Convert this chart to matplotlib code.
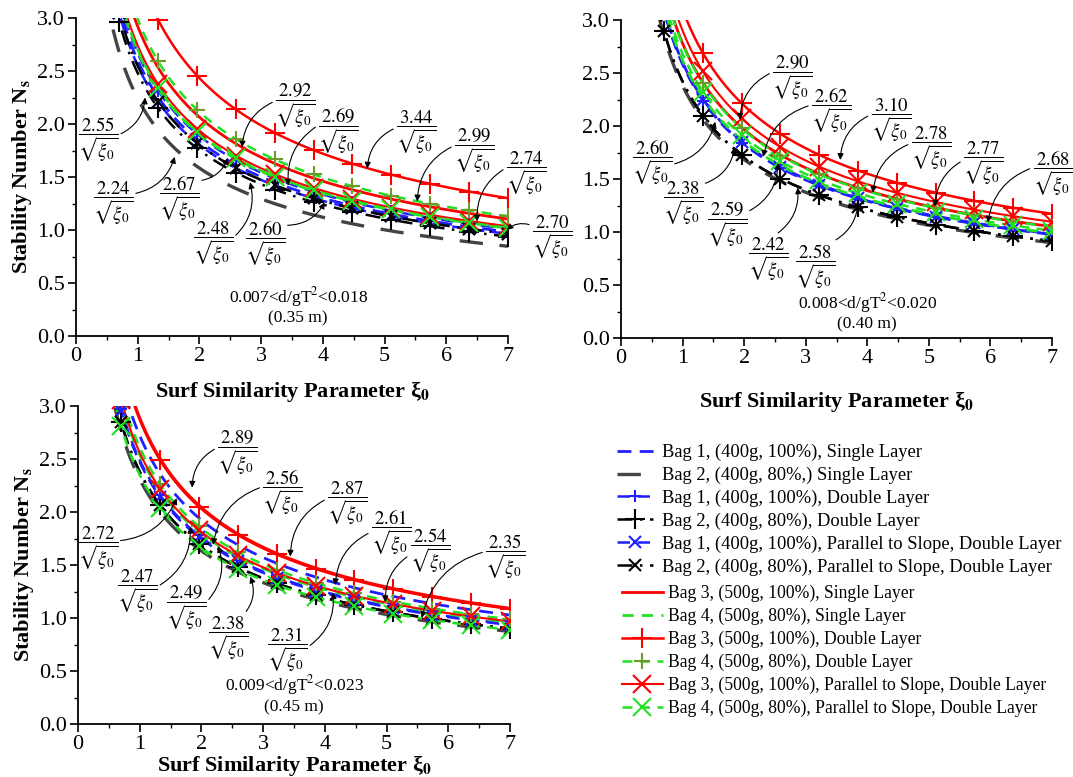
import numpy as np
import matplotlib
matplotlib.use("Agg")
import matplotlib.pyplot as plt
from matplotlib.lines import Line2D
from matplotlib.ticker import MultipleLocator, FormatStrFormatter

plt.rcParams['font.family'] = ['Liberation Serif', 'DejaVu Serif']
plt.rcParams['mathtext.fontset'] = 'stix'

# Surf similarity values at which the test points are plotted
xi_points = [0.70, 1.33, 1.96, 2.59, 3.22, 3.85, 4.48, 5.11, 5.74, 6.37, 7.00]

series_names = [
    'Bag 1, (400g, 100%), Single Layer',
    'Bag 2, (400g, 80%,) Single Layer',
    'Bag 1, (400g, 100%), Double Layer',
    'Bag 2, (400g, 80%), Double Layer',
    'Bag 1, (400g, 100%), Parallel to Slope, Double Layer',
    'Bag 2, (400g, 80%), Parallel to Slope, Double Layer',
    'Bag 3, (500g, 100%), Single Layer',
    'Bag 4, (500g, 80%), Single Layer',
    'Bag 3, (500g, 100%), Double Layer',
    'Bag 4, (500g, 80%), Double Layer',
    'Bag 3, (500g, 100%), Parallel to Slope, Double Layer',
    'Bag 4, (500g, 80%), Parallel to Slope, Double Layer',
]

# Fitted coefficients a in N_s = a / sqrt(xi_0), one per series (legend order)
coef_035 = [2.60, 2.24, 2.67, 2.48, 2.55, 2.55, 2.92, 2.69, 3.44, 2.99, 2.74, 2.70]
coef_040 = [2.60, 2.38, 2.58, 2.42, 2.59, 2.42, 2.78, 2.62, 3.10, 2.77, 2.90, 2.68]
coef_045 = [2.72, 2.31, 2.49, 2.38, 2.47, 2.38, 2.89, 2.54, 2.87, 2.61, 2.56, 2.35]

# Labelled fits: coefficient, label position, arrow tip, arrow start on label box
labels_035 = [
    (2.55, (0.36, 1.85), (1.12, 2.25), (1, 0.6)),
    (2.24, (0.60, 1.25), (1.60, 1.69), (1, 0.7)),
    (2.67, (1.67, 1.30), (2.46, 1.68), (1, 0.85)),
    (2.92, (3.55, 2.17), (2.69, 1.78), (0, 0.6)),
    (2.69, (4.25, 1.94), (3.44, 1.42), (0, 0.6)),
    (2.48, (2.22, 0.88), (2.82, 1.45), (1, 0.6)),
    (2.60, (3.06, 0.88), (4.03, 1.26), (1, 0.85)),
    (3.44, (5.51, 1.92), (4.72, 1.58), (0, 0.6)),
    (2.99, (6.45, 1.75), (5.53, 1.27), (0, 0.6)),
    (2.74, (7.29, 1.54), (6.50, 1.08), (0, 0.6)),
    (2.70, (7.71, 0.93), (6.98, 1.00), (0, 0.75)),
]
labels_040 = [
    (2.90, (2.78, 2.46), (1.93, 2.06), (0, 0.6)),
    (2.62, (3.41, 2.15), (2.31, 1.71), (0, 0.6)),
    (3.10, (4.38, 2.06), (3.56, 1.68), (0, 0.6)),
    (2.78, (5.03, 1.79), (4.09, 1.37), (0, 0.6)),
    (2.77, (5.88, 1.65), (5.10, 1.24), (0.1, 0.6)),
    (2.68, (7.01, 1.56), (5.96, 1.09), (0, 0.6)),
    (2.60, (0.50, 1.66), (1.53, 2.04), (1, 0.45)),
    (2.38, (1.00, 1.27), (1.85, 1.80), (1, 0.9)),
    (2.59, (1.72, 1.07), (2.55, 1.65), (1, 0.75)),
    (2.42, (2.39, 0.74), (2.87, 1.42), (0.65, 1)),
    (2.58, (3.15, 0.67), (3.85, 1.30), (0.9, 1)),
]
labels_045 = [
    (2.89, (2.58, 2.56), (1.85, 2.23), (0, 0.6)),
    (2.56, (3.31, 2.19), (2.19, 1.69), (0, 0.6)),
    (2.87, (4.36, 2.08), (3.44, 1.58), (0, 0.6)),
    (2.61, (5.07, 1.81), (4.17, 1.31), (0, 0.5)),
    (2.54, (5.70, 1.64), (4.98, 1.15), (0.1, 0.45)),
    (2.35, (6.92, 1.58), (5.57, 1.00), (0, 0.6)),
    (2.72, (0.32, 1.66), (1.60, 2.13), (1, 0.65)),
    (2.47, (0.96, 1.25), (1.82, 1.86), (1, 0.6)),
    (2.49, (1.75, 1.10), (2.27, 1.68), (1, 0.6)),
    (2.38, (2.43, 0.81), (2.79, 1.39), (0.9, 1)),
    (2.31, (3.39, 0.70), (4.13, 1.24), (1, 0.55)),
]

BLUE = '#1f1fff'
GREY = '#444444'
RED = '#ff0000'
GREEN = '#22e022'
OLIVE = '#6f9a2a'

styles = [
    dict(color=BLUE, ls=(0, (5, 3)), lw=2.0, marker=None, ms=0, mec=BLUE),
    dict(color=GREY, ls=(0, (7, 5)), lw=2.4, marker=None, ms=0, mec=GREY),
    dict(color=BLUE, ls=(0, (5, 3)), lw=1.8, marker='+', ms=9, mec=BLUE),
    dict(color='black', ls=(0, (6, 3, 1, 3)), lw=1.8, marker='+', ms=14, mec='black'),
    dict(color=BLUE, ls=(0, (5, 3)), lw=1.8, marker='x', ms=8, mec=BLUE),
    dict(color='black', ls=(0, (6, 3, 1, 3)), lw=1.8, marker='x', ms=9, mec='black'),
    dict(color=RED, ls='-', lw=2.0, marker=None, ms=0, mec=RED),
    dict(color=GREEN, ls=(0, (4, 3)), lw=2.0, marker=None, ms=0, mec=GREEN),
    dict(color=RED, ls='-', lw=1.8, marker='+', ms=15, mec=RED),
    dict(color=GREEN, ls=(0, (4, 3)), lw=1.8, marker='+', ms=11, mec=OLIVE),
    dict(color=RED, ls='-', lw=1.5, marker='x', ms=13, mec=RED),
    dict(color=GREEN, ls=(0, (4, 3)), lw=1.8, marker='x', ms=13, mec=GREEN),
]

fig = plt.figure(figsize=(10.73, 7.77), dpi=100)

panels = [
    ([76 / 1073, 1 - 336 / 777, 432 / 1073, 318 / 777], coef_035, labels_035,
     '0.007<d/gT$^2$<0.018', '(0.35 m)', 3.6, 0.37, 0.17, True, 9),
    ([621 / 1073, 1 - 338 / 777, 431 / 1073, 318 / 777], coef_040, labels_040,
     '0.008<d/gT$^2$<0.020', '(0.40 m)', 4.0, 0.33, 0.13, False, 15),
    ([78 / 1073, 1 - 724 / 777, 432 / 1073, 318 / 777], coef_045, labels_045,
     '0.009<d/gT$^2$<0.023', '(0.45 m)', 3.5, 0.37, 0.16, True, -1),
]

xi_curve = np.linspace(0.6, 7.0, 400)
xi_pts = np.array(xi_points)

for rect, coefs, labels, cond, depth, cx, cy1, cy2, show_ylabel, xpad in panels:
    ax = fig.add_axes(rect)
    for a, st in zip(coefs, styles):
        ax.plot(xi_curve, a / np.sqrt(xi_curve), color=st['color'], ls=st['ls'],
                lw=st['lw'], zorder=2)
        if st['marker']:
            ax.plot(xi_pts, a / np.sqrt(xi_pts), ls='none', marker=st['marker'],
                    ms=st['ms'], mec=st['mec'], mew=1.5, zorder=3)
    for a, txt_xy, tip, rel in labels:
        ax.annotate(r'$\dfrac{%.2f}{\sqrt{\xi_0}}$' % a, xy=tip, xytext=txt_xy,
                    ha='center', va='center', fontsize=13.5, annotation_clip=False,
                    arrowprops=dict(arrowstyle='-|>', color='black', lw=0.8,
                                    mutation_scale=9, relpos=rel, shrinkA=0, shrinkB=0,
                                    connectionstyle='arc3,rad=0.3'))
    ax.text(cx, cy1, cond, ha='center', va='center', fontsize=12.5)
    ax.text(cx, cy2, depth, ha='center', va='center', fontsize=12.5)

    ax.set_xlim(0, 7)
    ax.set_ylim(0, 3)
    ax.xaxis.set_major_locator(MultipleLocator(1))
    ax.xaxis.set_minor_locator(MultipleLocator(0.5))
    ax.yaxis.set_major_locator(MultipleLocator(0.5))
    ax.yaxis.set_minor_locator(MultipleLocator(0.25))
    ax.yaxis.set_major_formatter(FormatStrFormatter('%.1f'))
    ax.tick_params(which='major', direction='out', length=6, width=1.2, labelsize=16, pad=2)
    ax.tick_params(which='minor', direction='out', length=3, width=1.0)
    for side in ('top', 'right'):
        ax.spines[side].set_visible(False)
    for side in ('left', 'bottom'):
        ax.spines[side].set_linewidth(1.3)
    ax.set_xlabel(r'Surf Similarity Parameter ξ$_\mathbf{0}$', fontsize=16,
                  fontweight='bold', labelpad=xpad)
    if show_ylabel:
        ax.set_ylabel(r'Stability Number N$_\mathbf{s}$', fontsize=16,
                      fontweight='bold', labelpad=2)

handles = []
for st in styles:
    handles.append(Line2D([], [], color=st['color'], ls=st['ls'], lw=st['lw'],
                          marker=st['marker'] if st['marker'] else None,
                          ms=st['ms'], mec=st['mec'], mew=1.5))

fig.legend(handles[:6], series_names[:6], loc='upper left',
           bbox_to_anchor=(617 / 1073, 1 - 444 / 777), frameon=False, fontsize=13.3,
           handlelength=1.95, handletextpad=0.5, labelspacing=0.3, borderpad=0,
           borderaxespad=0)
fig.legend(handles[6:], series_names[6:], loc='upper left',
           bbox_to_anchor=(622 / 1073, 1 - 585 / 777), frameon=False, fontsize=12.7,
           handlelength=2.3, handletextpad=0.3, labelspacing=0.32, borderpad=0,
           borderaxespad=0)

fig.savefig('out.png', dpi=100)
